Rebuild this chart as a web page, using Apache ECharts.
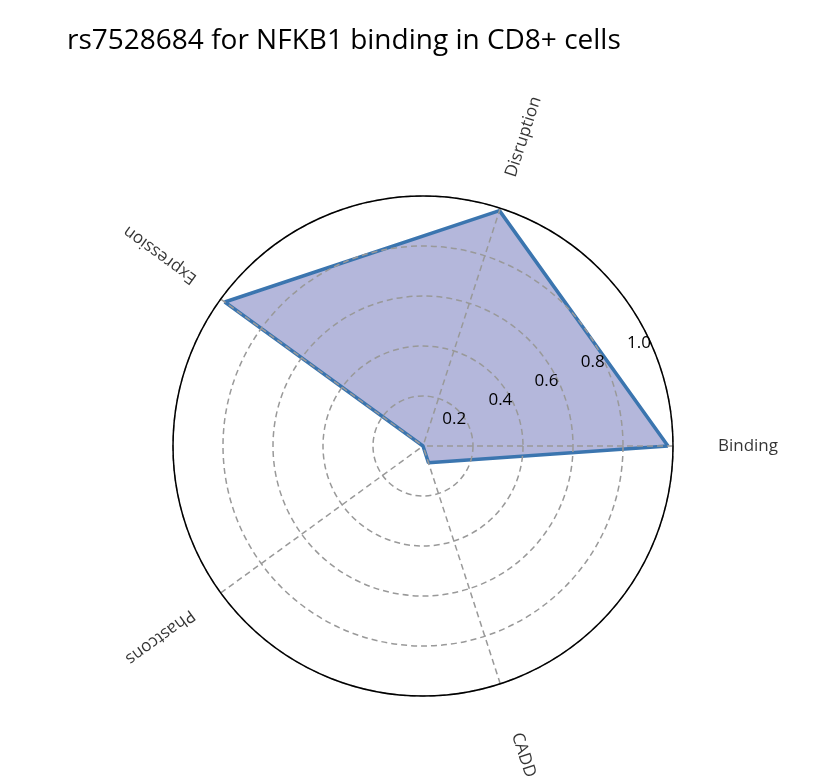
<!DOCTYPE html>
<html>
<head>
<meta charset="utf-8">
<script src="https://cdn.jsdelivr.net/npm/echarts@6/dist/echarts.min.js"></script>
<style>
  html, body { margin: 0; padding: 0; background: #fff; }
  #root { width: 818px; height: 782px; }
</style>
</head>
<body>
<div id="root"></div>
<script>
// Chart data
const titleText = "rs7528684 for NFKB1 binding in CD8+ cells";
const categories = ["Binding", "Disruption", "Expression", "Phastcons", "CADD"];
const values = [0.98, 0.99, 0.98, 0.0, 0.07];
const radiusTicks = [0.2, 0.4, 0.6, 0.8, 1.0];

const step = 360 / categories.length;
const angles = categories.map((c, i) => i * step);

// Closed polygon: repeat first point at the end
const polyData = values.map((v, i) => [v, angles[i]]);
polyData.push([values[0], 360]);

const labelData = categories.map((c, i) => ({
  value: [1.3, angles[i]],
  name: c,
  label: { rotate: angles[i] }
}));

const font = "'Open Sans', 'DejaVu Sans', sans-serif";
const gridLine = { show: true, lineStyle: { color: '#999', type: [6, 4], width: 1.5 } };

const chart = echarts.init(document.getElementById("root"));
chart.setOption({
  backgroundColor: '#fff',
  animation: false,
  title: {
    text: titleText, left: 62, top: 22,
    textStyle: { fontFamily: font, fontWeight: 'normal', fontSize: 28, color: '#000' }
  },
  polar: [
    { center: [423, 446], radius: 250 },
    { center: [423, 446], radius: 250 }
  ],
  angleAxis: [
    {
      polarIndex: 0, type: 'value', min: 0, max: 360, interval: step,
      startAngle: 0, clockwise: false, z: 10,
      axisLine: { show: true, lineStyle: { color: '#000', width: 1.5 } },
      axisTick: { show: false }, axisLabel: { show: false },
      splitLine: gridLine
    },
    {
      polarIndex: 1, type: 'value', min: 0, max: 360, startAngle: 22.5, clockwise: false,
      axisLine: { show: false }, axisTick: { show: false },
      axisLabel: { show: false }, splitLine: { show: false }
    }
  ],
  radiusAxis: [
    {
      polarIndex: 0, min: 0, max: 1, interval: 0.2, z: 10,
      axisLine: { show: false }, axisTick: { show: false }, axisLabel: { show: false },
      splitLine: gridLine
    },
    {
      polarIndex: 1, min: 0, max: 1, interval: 0.2, z: 11,
      axisLine: { show: false }, axisTick: { show: false }, splitLine: { show: false },
      axisLabel: {
        show: true, fontFamily: font, fontSize: 17, color: '#000',
        formatter: (v) => radiusTicks.some(t => Math.abs(t - v) < 1e-6) ? v.toFixed(1) : ''
      }
    }
  ],
  series: [
    {
      type: 'line', coordinateSystem: 'polar', polarIndex: 0, z: 1,
      data: polyData, symbol: 'none',
      lineStyle: { color: '#3b75af', width: 3.5 },
      areaStyle: { color: '#b4b7db', opacity: 1 }
    },
    {
      type: 'scatter', coordinateSystem: 'polar', polarIndex: 0,
      data: labelData, symbolSize: 0, clip: false, silent: true,
      label: {
        show: true, position: 'inside', formatter: '{b}',
        fontFamily: font, fontSize: 17, color: '#000'
      }
    }
  ]
});
</script>
</body>
</html>
